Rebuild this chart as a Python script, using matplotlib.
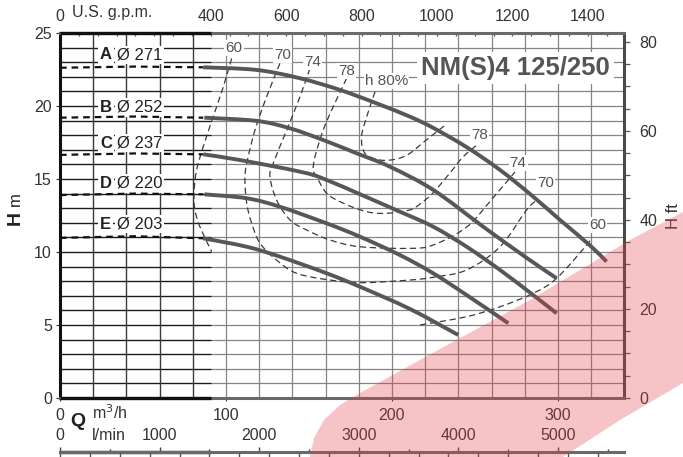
import matplotlib
matplotlib.use('Agg')
import matplotlib.pyplot as plt
from matplotlib.ticker import MultipleLocator
from matplotlib.patches import Polygon, PathPatch
from matplotlib.path import Path

plt.rcParams['font.family'] = ['Liberation Sans', 'DejaVu Sans']

# impellers
names = ['A', 'B', 'C', 'D', 'E']
diams = ['Ø 271', 'Ø 252', 'Ø 237', 'Ø 220', 'Ø 203']

# dashed part near shut-off (Q m3/h, H m)
low_q = [0, 45, 86.3]
low_h = [[22.62, 22.70, 22.65],
         [19.20, 19.28, 19.20],
         [16.65, 16.75, 16.69],
         [13.90, 14.00, 13.95],
         [10.97, 11.08, 10.94]]

# solid part of each curve
qA = [86.3, 118.5, 144.6, 168.7, 190.8, 210.8, 224.9, 245.0, 265.1, 285.1, 301.2, 319.3, 329.3]
hA = [22.65, 22.47, 21.9, 21.1, 20.18, 19.27, 18.5, 17.18, 15.62, 13.79, 12.2, 10.45, 9.34]
qB = [87.0, 118.5, 138.6, 158.6, 178.7, 198.8, 224.9, 255.0, 281.1, 299.2]
hB = [19.2, 18.98, 18.47, 17.67, 16.76, 15.84, 14.25, 11.73, 9.6, 8.2]
qC = [86.3, 108.4, 144.6, 160.7, 204.8, 224.9, 245.0, 265.1, 285.1, 299.2]
hC = [16.69, 16.3, 15.5, 14.93, 12.76, 11.73, 10.36, 8.77, 7.05, 5.8]
qD = [87.0, 112.5, 132.5, 160.7, 180.7, 204.8, 224.9, 245.0, 270.1]
hD = [13.95, 13.68, 13.1, 11.96, 11.05, 9.79, 8.54, 7.05, 5.12]
qE = [86.3, 112.5, 132.5, 160.7, 180.7, 210.8, 239.9]
hE = [10.94, 10.36, 9.68, 8.54, 7.62, 6.1, 4.32]
curves_q = [qA, qB, qC, qD, qE]
curves_h = [hA, hB, hC, hD, hE]
label_h = [23.5, 19.9, 17.45, 14.7, 11.9]

# efficiency iso-lines
e60a_q = [103.4, 98.4, 92.3, 86.3, 82.3, 80.7, 81.3, 84.3, 91.4]
e60a_h = [23.26, 21.32, 19.27, 17.21, 15.62, 14.02, 12.88, 11.73, 10.02]
e60b_q = [216.9, 245.0, 265.1, 285.1, 299.2, 317.3, 320.3]
e60b_h = [5.0, 5.57, 6.25, 7.17, 8.2, 10.48, 11.05]
e70_q = [132.5, 124.5, 117.5, 112.5, 111.4, 112.5, 115.5, 120.5, 130.5, 142.6, 162.7, 182.7, 210.8, 224.9, 245.0, 265.1, 281.1, 287.3]
e70_h = [22.92, 20.64, 18.36, 16.08, 14.93, 13.33, 11.96, 10.6, 9.45, 8.54, 8.08, 7.9, 8.08, 8.27, 8.77, 10.36, 12.88, 13.56]
e74_q = [150.6, 144.6, 136.6, 128.5, 126.5, 130.5, 138.6, 148.6, 162.7, 180.7, 210.8, 224.9, 245.0, 260.8, 274.1]
e74_h = [22.58, 20.64, 18.36, 16.08, 15.16, 13.56, 12.19, 11.51, 10.82, 10.36, 10.25, 10.48, 11.71, 13.7, 15.48]
e78_q = [172.7, 164.6, 158.6, 153.6, 152.6, 154.6, 160.7, 170.7, 184.8, 196.8, 210.8, 216.9, 224.7, 234.9, 242.8, 251.2]
e78_h = [21.9, 19.95, 18.36, 16.53, 15.62, 15.16, 14.02, 13.34, 12.76, 12.65, 12.88, 13.29, 14.04, 15.41, 16.51, 17.33]
e80_q = [189.8, 184.8, 181.7, 183.7, 192.8, 202.8, 210.8, 219.9, 233.0]
e80_h = [20.98, 19.27, 17.9, 16.76, 16.3, 16.37, 16.76, 17.6, 18.77]
eff_q = [e60a_q, e60b_q, e70_q, e74_q, e78_q, e80_q]
eff_h = [e60a_h, e60b_h, e70_h, e74_h, e78_h, e80_h]

eff_text = ['60', '70', '74', '78', 'h 80%', '78', '74', '70', '60']
eff_lq = [104.8, 134.0, 152.0, 172.7, 196.8, 253.0, 276.0, 292.6, 323.9]
eff_lh = [24.0, 23.5, 23.0, 22.4, 21.7, 18.0, 16.07, 14.75, 11.85]

# axis ticks
q_ticks = [0, 100, 200, 300]
h_ticks = [0, 5, 10, 15, 20, 25]
gpm_ticks = [0, 400, 600, 800, 1000, 1200, 1400]
ft_ticks = [0, 20, 40, 60, 80]
lmin_ticks = [0, 1000, 2000, 3000, 4000, 5000]

GPM = 4.4029
FT = 3.2808
QMAX = 339.8
q_split = 400 / GPM


def smooth(q, h):
    # bezier path through the read points
    pts = list(zip(q, h))
    verts = [pts[0]]
    codes = [Path.MOVETO]
    n = len(pts)
    for i in range(n - 1):
        p0 = pts[i - 1] if i > 0 else pts[i]
        p1 = pts[i]
        p2 = pts[i + 1]
        p3 = pts[i + 2] if i + 2 < n else pts[i + 1]
        c1 = (p1[0] + (p2[0] - p0[0]) / 6, p1[1] + (p2[1] - p0[1]) / 6)
        c2 = (p2[0] - (p3[0] - p1[0]) / 6, p2[1] - (p3[1] - p1[1]) / 6)
        verts += [c1, c2, p2]
        codes += [Path.CURVE4] * 3
    return Path(verts, codes)


fig = plt.figure(figsize=(6.83, 4.57), dpi=100)
W, Hh = 683.0, 457.0

# translucent pink band over everything
band = [(310, 457), (314, 438), (324, 420), (340, 405), (360, 393), (440, 349),
        (530, 300), (630, 240), (683, 212), (683, 383), (620, 420), (563, 457)]
fig.patches.append(Polygon([(x / W, 1 - y / Hh) for x, y in band], closed=True,
                           transform=fig.transFigure, facecolor=(0.894, 0.243, 0.282),
                           alpha=0.3, edgecolor='none', zorder=10))

ax = fig.add_axes([60 / W, 59 / Hh, 564 / W, 365 / Hh])
ax.patch.set_facecolor('none')
ax.set_xlim(0, QMAX)
ax.set_ylim(0, 25)

ax.xaxis.set_major_locator(MultipleLocator(100))
ax.xaxis.set_minor_locator(MultipleLocator(20))
ax.yaxis.set_major_locator(MultipleLocator(5))
ax.yaxis.set_minor_locator(MultipleLocator(1))
ax.set_xticks(q_ticks)
ax.set_yticks(h_ticks)
ax.grid(which='both', color='#858585', lw=0.9, zorder=1)
ax.set_axisbelow(True)
ax.tick_params(which='minor', length=0)
ax.tick_params(axis='x', which='major', length=2.2, pad=5, labelsize=11.5, colors='#333333')
ax.tick_params(axis='y', which='major', length=2.9, pad=2.9, labelsize=11.5, colors='#333333')

# darker grid in the left block
for yv in range(1, 25):
    ax.plot([0, q_split], [yv, yv], color='#1a1a1a', lw=0.9, zorder=1.2,
            solid_capstyle='butt')
for xv in [20, 40, 60, 80]:
    ax.plot([xv, xv], [0, 25], color='#3a3a3a', lw=0.9, zorder=1.2)

for s in ax.spines.values():
    s.set_color('#6a6a6a')
    s.set_linewidth(2.2)
ax.spines['left'].set_color('#111111')
ax.spines['right'].set_color('#4a4a4a')
ax.plot([0, q_split], [0, 0], color='#111111', lw=2.4, clip_on=False, zorder=6, solid_capstyle='butt')
ax.plot([0, q_split], [25, 25], color='#111111', lw=2.4, clip_on=False, zorder=6, solid_capstyle='butt')

# efficiency lines
for q, h in zip(eff_q, eff_h):
    ax.add_patch(PathPatch(smooth(q, h), fill=False, edgecolor='#3a3a3a', lw=0.9,
                           linestyle=(0, (5, 3)), zorder=3))
for t, q, h in zip(eff_text, eff_lq, eff_lh):
    ax.text(q, h, t, fontsize=11, color='#555555', ha='center', va='center', zorder=4,
            bbox=dict(facecolor='white', edgecolor='none', pad=0.8))

# impeller curves
for i in range(5):
    ax.plot(low_q, low_h[i], color='#111111', lw=1.6, dashes=(3, 2.2), zorder=5)
    ax.add_patch(PathPatch(smooth(curves_q[i], curves_h[i]), fill=False,
                           edgecolor='#575757', lw=2.8, zorder=5, capstyle='butt'))
    ax.text(24.1, label_h[i], names[i], fontsize=12, fontweight='bold', color='#222222',
            va='center', ha='left', zorder=4,
            bbox=dict(facecolor='white', edgecolor='none', pad=1.2))
    ax.text(34.3, label_h[i], diams[i], fontsize=12, color='#222222', va='center',
            ha='left', zorder=4, bbox=dict(facecolor='white', edgecolor='none', pad=1.2))

ax.text(331.3, 22.6, 'NM(S)4 125/250', fontsize=18.5, fontweight='bold', color='#555555',
        ha='right', va='center', zorder=4,
        bbox=dict(facecolor='white', edgecolor='none', pad=3))

# top axis: US gpm
top = ax.secondary_xaxis('top', functions=(lambda q: q * GPM, lambda g: g / GPM))
top.set_xticks(gpm_ticks)
top.xaxis.set_minor_locator(MultipleLocator(50))
top.tick_params(which='both', direction='in', length=2.5, width=0.9, color='#555555')
top.tick_params(which='major', pad=6.5, labelsize=11.5, labelcolor='#333333')
for s in top.spines.values():
    s.set_visible(False)
ax.text(7.2, 1.055, 'U.S. g.p.m.', transform=ax.get_xaxis_transform(), fontsize=11.5,
        color='#333333', va='center', ha='left')

# right axis: ft
right = ax.secondary_yaxis('right', functions=(lambda h: h * FT, lambda f: f / FT))
right.set_yticks(ft_ticks)
right.yaxis.set_minor_locator(MultipleLocator(5))
right.tick_params(which='both', direction='out', length=4.5, width=0.9, color='#555555')
right.tick_params(which='major', pad=6.5, labelsize=11.5, labelcolor='#333333')
for s in right.spines.values():
    s.set_visible(False)
fig.text(673 / W, 1 - 216 / Hh, 'H ft', rotation=90, fontsize=12, color='#333333',
         ha='center', va='center')

# left label
fig.text(15 / W, 1 - 218 / Hh, 'H', rotation=90, fontsize=14, fontweight='bold',
         color='#222222', ha='center', va='center')
fig.text(15 / W, 1 - 199 / Hh, 'm', rotation=90, fontsize=12, color='#222222',
         ha='center', va='center')

# Q labels
fig.text(78 / W, 1 - 422 / Hh, 'Q', fontsize=14, fontweight='bold', color='#222222',
         ha='center', va='center')
fig.text(92 / W, 1 - 413 / Hh, 'm$^3$/h', fontsize=11.5, color='#333333', ha='left', va='center')
fig.text(92 / W, 1 - 436 / Hh, 'l/min', fontsize=11.5, color='#333333', ha='left', va='center')

# l/min axis
axl = fig.add_axes([60 / W, (457 - 452.5) / Hh, 564 / W, 0.0001])
axl.patch.set_facecolor('none')
axl.set_xlim(0, QMAX * 1000 / 60)
axl.set_ylim(0, 1)
axl.set_yticks([])
axl.xaxis.set_ticks_position('top')
axl.set_xticks(lmin_ticks)
axl.xaxis.set_minor_locator(MultipleLocator(500))
axl.tick_params(which='major', direction='out', length=3.6, width=1, color='#444444',
                pad=3.5, labelsize=11.5, labelcolor='#333333')
axl.tick_params(which='minor', direction='out', length=2.2, width=1, color='#444444')
for k in ['left', 'right', 'bottom']:
    axl.spines[k].set_visible(False)
axl.spines['top'].set_color('#6a6a6a')
axl.spines['top'].set_linewidth(2.2)
axl.plot([0, q_split * 1000 / 60], [1, 1], color='#111111', lw=2.4, clip_on=False,
         solid_capstyle='butt')

axd = fig.add_axes([60 / W, (457 - 452.5) / Hh, 564 / W, 0.0001])
axd.patch.set_facecolor('none')
axd.set_xlim(0, QMAX)
axd.set_yticks([])
axd.xaxis.set_major_locator(MultipleLocator(18))
axd.tick_params(direction='out', length=3, width=1, color='#555555', labelbottom=False)
for s in axd.spines.values():
    s.set_visible(False)

fig.savefig('out.png', dpi=100)
